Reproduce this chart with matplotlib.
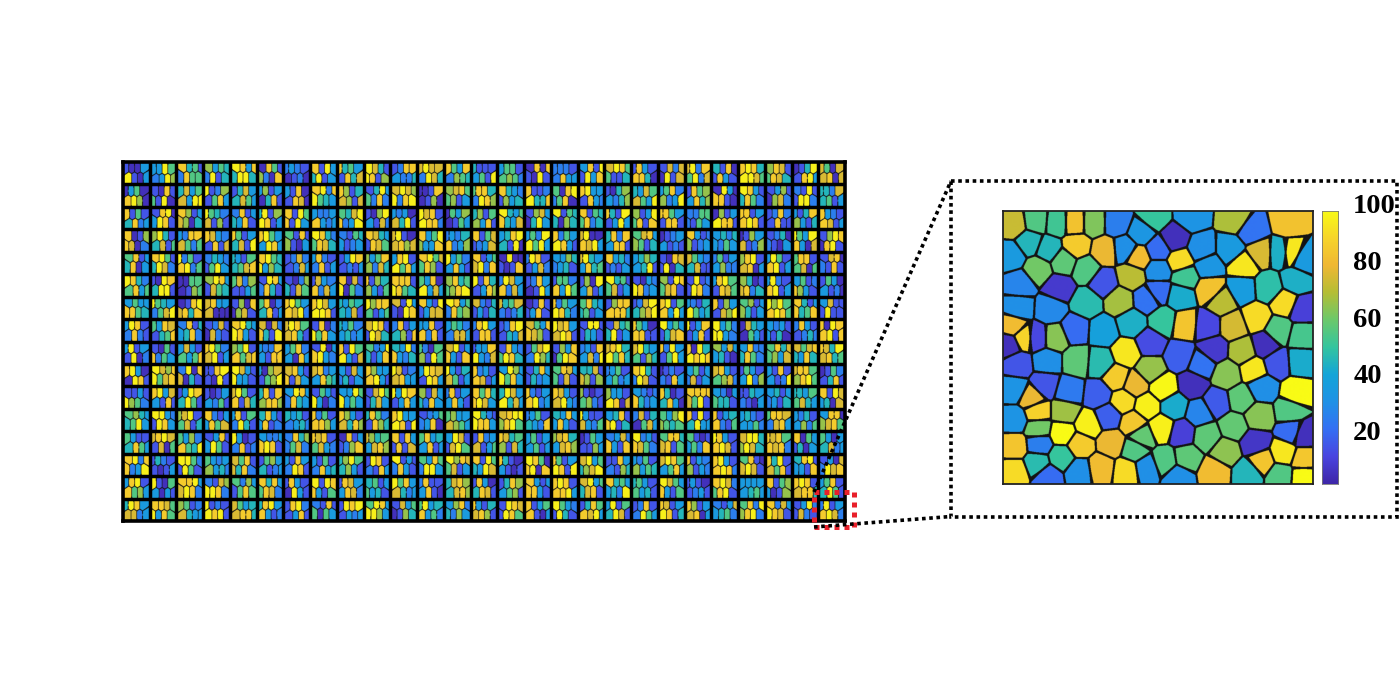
import numpy as np
import matplotlib
matplotlib.use("Agg")
import matplotlib.pyplot as plt
from matplotlib.colors import LinearSegmentedColormap
from matplotlib.patches import Rectangle

# ---- data ----
# enlarged patch: seed x, seed y (reading coordinates), value
INSET_X = [192,260,322,375,430,500,610,725,855,905,1015,185,240,295,380,465,525,575,672,625,755,840,880,930,990,1022,1062,565,690,265,342,408,625,775,210,328,460,545,705,625,780,875,955,1035,690,590,510,410,205,303,815,1005,1055,918,640,545,460,375,705,770,850,985,1055,190,222,178,262,315,530,600,690,790,878,945,980,1052,205,292,382,450,600,755,830,910,500,555,640,728,935,1040,195,285,358,445,800,873,520,590,672,245,748,925,1020,262,345,415,475,195,635,550,695,850,770,1025,265,338,1058,485,390,915,575,195,268,825,1000,555,335,262,645,710,935,1060,195,295,388,452,530,590,685,792,895,990,1060]
INSET_Y = [150,140,145,145,145,145,130,125,135,170,145,245,205,225,215,230,225,175,195,225,225,225,272,235,235,235,255,250,260,285,262,285,290,275,330,340,325,305,308,350,345,345,340,320,365,375,380,385,400,405,380,385,405,430,440,445,470,465,450,455,455,468,485,455,490,510,490,490,535,505,545,525,530,512,565,560,570,560,560,565,585,570,600,585,610,630,640,630,640,655,645,630,650,660,685,673,680,695,695,670,715,725,710,712,712,750,725,735,760,745,775,755,785,770,762,775,780,805,810,805,785,815,808,830,835,825,848,865,860,850,860,855,890,905,890,880,890,880,905,890,895,900,905]
INSET_V = [72,55,52,82,62,25,50,32,68,22,82,35,45,45,85,78,30,33,5,20,30,35,93,75,43,93,35,80,90,60,57,55,30,33,27,8,15,70,52,20,82,36,48,43,42,22,67,47,30,28,70,90,10,90,50,43,38,20,83,12,74,55,53,80,88,5,12,63,93,13,17,8,68,5,15,42,15,30,57,47,65,22,63,93,85,78,97,5,30,98,32,15,24,17,16,57,90,95,42,78,27,63,55,87,66,95,17,32,95,84,10,58,57,20,60,98,5,78,85,7,58,83,25,64,93,55,50,47,55,57,83,84,90,20,30,80,90,30,30,80,45,55,98]

# large panel: 27 tiles x 16 rows, per tile 4 upper + 4 lower cells, one digit
# each (0 = lowest colour band ... 9 = highest colour band)
MOSAIC = [
"10039103 33952396 84512855 63542914 98384994 08516208 23210120 81934913 84531847 97419816 12883224 79772974 85382654 41113519 35515652 08081091 22212833 38191938 79855114 18318840 17270917 79285927 41801831 89849975 68715874 01491893 75077807",
"03508960 10815190 47357399 91261583 14734753 36130481 31801870 89289543 86147617 14935282 79769289 00180160 67855613 58842986 84321634 81129448 50892580 89331832 10463246 43757539 35826239 18563846 09308810 98314852 13610672 21911992 44274513",
"81514823 18903981 86137604 95427161 28134381 49169813 81958193 32238323 54798239 10693172 32307491 97819882 05360153 46156381 94358437 16730493 91544064 81545824 84191393 61395818 88531881 22552153 06139881 88138981 12821811 31486314 83218713",
"80168702 69414715 32887525 87321817 85134719 89533983 51816103 98425874 21543123 87431875 79107867 83596338 23248236 81571237 34894190 35299593 82539831 79008793 48283881 57836514 01233121 83126123 34243253 01637126 12402103 95398307 16980891",
"58134803 89514972 92518925 24321593 43154578 89549364 12721273 38212813 13981213 63586274 38919583 89575861 93523831 81357928 09001018 29811372 33642341 79433845 83421213 34643491 10871904 75324711 25133622 68917803 39518913 58815705 17802181",
"98425835 10984991 00550165 69831754 57261135 19832841 10264175 17328273 80719052 81646315 88819854 53809373 68455689 91841386 29738273 12830193 15528395 16093713 94515713 10329823 61985781 19121982 38951875 64017824 39218913 35128631 15303120",
"35338854 95432579 01897848 78337000 16080671 58024813 89538792 89739981 43544371 96885135 71931098 83191377 98352856 72141314 74572124 01811381 82539842 58434513 16888884 12794679 89158393 32149534 81631769 56136413 96958985 84138458 37111911",
"39812821 53871458 28143482 12710721 89439831 70728419 79857841 18029583 43523423 79811974 28134618 33818281 35422773 28931881 12891437 75388761 97837981 19911431 17454913 85308811 93531478 91381381 93529932 07430531 32313140 28311242 80988918",
"39131902 10518253 37315358 89527913 65918578 32283188 35823083 19038932 81959317 52394138 43928324 52056195 79138318 13389327 18325984 15792964 16380598 23183729 78949584 79435164 82931593 80949898 63733410 38224852 58475637 75784384 87497845",
"89300981 97689578 29087041 11891091 97319331 30671569 78318173 78233854 31732413 86338931 97127833 39871983 93147513 82318713 39639583 14831423 58735171 44717616 23513523 89412971 01212183 35132713 78315672 15313926 31813129 78856895 01521481",
"11319652 89373181 13984951 10133251 79518174 48186886 39832843 15319302 33959353 17951473 93981383 61734283 28133831 85848973 49739473 82138923 87317932 61015621 63319807 32128423 84014830 88887591 32035441 11432103 34132314 44355743 81973407",
"56434593 99321983 67915714 82133857 38152941 48313812 43412342 82518863 86317486 48521864 89339819 12352380 56337653 94219883 78996895 23514328 43833831 93117325 34818914 27140573 53696545 81914933 81348215 34213352 58872783 32413625 38806785",
"53114853 78971705 53628549 13813951 93012812 32238981 28462572 87815732 08131268 76453786 81831817 58343813 39711795 18237135 87456174 35133513 67843786 01531163 23728318 92318752 58847815 51013528 98318971 79946974 87858782 80531403 53034723",
"89288239 14211013 99521951 53236342 75817482 15634123 31832981 31512834 46954631 19812183 91312831 53852993 96875713 81954397 84103101 98508908 85139819 79354679 11832164 32516354 79853583 81326132 89318982 58107971 84917581 48913318 13072978",
"38918563 91053031 88937982 21769982 52631585 84835872 18310931 91988315 18733872 45135341 95837423 28113810 47864786 18304871 14863561 83138831 89818893 79354781 84533429 45315341 97538315 13101231 89725891 33333453 81563016 89817884 35814951",
"49837723 88759385 65127433 91219891 75347884 48938312 18921381 21815053 19891323 59839963 17350164 59348352 36824263 83147861 19871985 81358103 95321941 14858793 39154971 12812953 87139814 86137803 21373452 58296892 82739871 13921721 29138972",
]

# colour ramp
RAMP = ["#3e26a8", "#4a45e0", "#3570f4", "#1f92e6", "#14a5d8", "#34c59f",
        "#6cc96b", "#b5be35", "#f0b833", "#f7d52a", "#f9fb15"]
VMIN, VMAX = 1.5, 98.0
TICK_VALUES = [20, 40, 60, 80, 100]

# tile layouts: shift of upper seeds, shift of lower seeds, split height
TILE_LAYOUTS = [(-.0625, .0625, .46), (.0625, -.0625, .55), (.09, -.03, .42), (-.03, .09, .60),
                (0, .125, .50), (-.09, .035, .52), (.125, 0, .38)]

W, H = 1400, 700
cmap = LinearSegmentedColormap.from_list("ramp", RAMP, N=256).copy()
cmap.set_bad("#141414")


def nearest(seed_x, seed_y, xs, ys, width, yscale=1.0):
    seed_x, seed_y = np.asarray(seed_x, float), np.asarray(seed_y, float)
    lab = np.zeros((len(ys), len(xs)), int)
    edge = np.zeros((len(ys), len(xs)), bool)
    for r, y in enumerate(ys):
        d = np.hypot(xs[:, None] - seed_x, (y - seed_y) * yscale)
        p = np.partition(d, 1, axis=1)
        lab[r] = d.argmin(axis=1)
        edge[r] = (p[:, 1] - p[:, 0]) < width
    return lab, edge


def px_axes(x0, y0, x1, y1, **kw):
    return fig.add_axes([x0 / W, 1 - y1 / H, (x1 - x0) / W, (y1 - y0) / H], **kw)


fig = plt.figure(figsize=(14, 7), dpi=100, facecolor="white")

# ---- large panel ----
L, T, R, B = 123.0, 162.0, 845.0, 521.0
ax = px_axes(L, T, R, B)
ncol, nrow = 27, 16
tw, th = 80, 67
tiles = []
for s_up, s_lo, split in TILE_LAYOUTS:
    sx, sy = [], []
    for k in range(4):
        sx.append((1.5 + 23 * ((k + .5) / 4 + s_up)))
        sy.append(1.5 + 19.4 * split * .5)
    for k in range(4):
        sx.append((1.5 + 23 * ((k + .5) / 4 + s_lo)))
        sy.append(1.5 + 19.4 * (split + (1 - split) * .5))
    xs = (np.arange(tw) + .5) / tw * 26.74
    ys = (np.arange(th) + .5) / th * 22.44
    tiles.append(nearest(sx, sy, xs, ys, .65, yscale=.68))

full = np.zeros((nrow * th, ncol * tw))
for r, row in enumerate(MOSAIC):
    for c, group in enumerate(row.split()):
        vals = 5 + 10 * np.array([int(ch) for ch in group])
        lab, edge = tiles[(r * 5 + c * 3 + c // 4) % len(tiles)]
        cell = vals[lab].astype(float)
        cell[edge] = np.nan
        full[r * th:(r + 1) * th, c * tw:(c + 1) * tw] = cell
ax.imshow(full, cmap=cmap, vmin=VMIN, vmax=VMAX, extent=(0, ncol, nrow, 0), aspect="auto",
          interpolation="antialiased", interpolation_stage="rgba")
ax.vlines(np.arange(1, ncol), 0, nrow, color="black", lw=2.5)
ax.hlines(np.arange(1, nrow), 0, ncol, color="black", lw=2.5)
ax.set_xticks([]); ax.set_yticks([])
for s in ax.spines.values():
    s.set_linewidth(2.6); s.set_color("black")

# ---- enlarged patch ----
ax2 = px_axes(1003.3, 211.0, 1312.7, 484.3)
xs = np.arange(160, 1088) + .5
ys = np.arange(108, 928) + .5
lab, edge = nearest(INSET_X, INSET_Y, xs, ys, 6.5)
img = np.array(INSET_V, float)[lab]
img[edge] = np.nan
ax2.imshow(img, cmap=cmap, vmin=VMIN, vmax=VMAX, extent=(160, 1088, 928, 108), aspect="auto",
           interpolation="antialiased", interpolation_stage="rgba")
ax2.set_xticks([]); ax2.set_yticks([])
for s in ax2.spines.values():
    s.set_linewidth(1.3); s.set_color("#222222")

# ---- colour bar ----
cax = px_axes(1321.7, 211.0, 1338.3, 484.3)
grad = np.linspace(VMAX, VMIN, 256)[:, None]
cax.imshow(grad, cmap=cmap, vmin=VMIN, vmax=VMAX, extent=(0, 1, VMIN, VMAX), aspect="auto")
cax.set_xticks([]); cax.set_yticks([])
for s in cax.spines.values():
    s.set_linewidth(.6); s.set_color("#777777")
for v in TICK_VALUES:
    cax.text(1.9, v - .5, str(v), transform=cax.get_yaxis_transform(), clip_on=False,
             ha="left", va="center", fontsize=20.5, fontweight="bold",
             family="Liberation Serif", color="black")

# ---- overlay: connectors, frames ----
ov = fig.add_axes([0, 0, 1, 1], facecolor="none")
ov.set_xlim(0, W); ov.set_ylim(H, 0); ov.axis("off")
dot = dict(color="black", lw=2.6, linestyle=(0, (1, 1)), dash_capstyle="butt")
ov.add_patch(Rectangle((951, 181), 446, 335.5, fill=False, edgecolor="black", lw=2.6,
                       linestyle=(0, (1, 1))))
ov.plot([814, 951], [492, 181], **dot)
ov.plot([814, 951], [527, 516.5], **dot)
ov.add_patch(Rectangle((814, 492), 39.5, 35, fill=False, edgecolor="#e8202a", lw=3.6,
                       linestyle=(0, (1, 1))))

fig.savefig("out.png", dpi=100)
